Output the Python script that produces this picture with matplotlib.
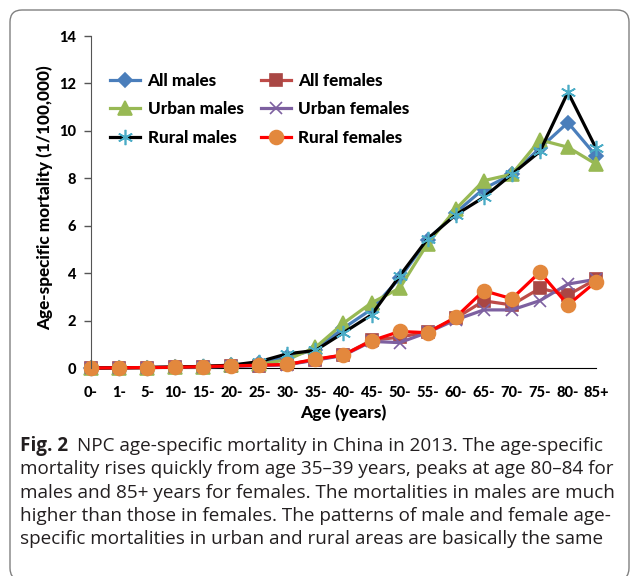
import matplotlib
matplotlib.use("Agg")
import matplotlib.pyplot as plt
from matplotlib.patches import FancyBboxPatch
from matplotlib.transforms import IdentityTransform
import numpy as np

ages = ["0-", "1-", "5-", "10-", "15-", "20-", "25-", "30-", "35-", "40-",
        "45-", "50-", "55-", "60-", "65-", "70-", "75-", "80-", "85+"]
all_males = [0, 0.01, 0.02, 0.04, 0.06, 0.12, 0.2, 0.45, 0.78, 1.68, 2.48, 3.78, 5.4, 6.55, 7.56, 8.17, 9.27, 10.35, 8.95]
all_females = [0, 0.01, 0.02, 0.03, 0.05, 0.08, 0.1, 0.15, 0.35, 0.55, 1.17, 1.3, 1.52, 2.1, 2.83, 2.66, 3.36, 3.08, 3.74]
urban_males = [0, 0.01, 0.02, 0.03, 0.05, 0.12, 0.15, 0.35, 0.87, 1.89, 2.75, 3.36, 5.25, 6.7, 7.9, 8.17, 9.62, 9.31, 8.6]
urban_females = [0, 0.01, 0.02, 0.03, 0.05, 0.07, 0.1, 0.14, 0.33, 0.53, 1.12, 1.07, 1.5, 2.03, 2.45, 2.45, 2.84, 3.54, 3.74]
rural_males = [0, 0.01, 0.02, 0.04, 0.07, 0.12, 0.27, 0.6, 0.74, 1.49, 2.24, 3.88, 5.45, 6.46, 7.2, 8.17, 9.13, 11.63, 9.27]
rural_females = [0, 0.01, 0.02, 0.03, 0.06, 0.09, 0.12, 0.15, 0.37, 0.55, 1.15, 1.54, 1.49, 2.14, 3.26, 2.92, 4.04, 2.66, 3.64]
yticks = [0, 2, 4, 6, 8, 10, 12, 14]

W, H = 630, 576
fig = plt.figure(figsize=(W / 100, H / 100), dpi=100)

# outer rounded box
box = FancyBboxPatch((10, -4), 619, 570, boxstyle="round,pad=0,rounding_size=12",
                     transform=IdentityTransform(), facecolor="none",
                     edgecolor="#808080", linewidth=1.0)
fig.patches.append(box)

def px(x0, y0, x1, y1):
    return [x0 / W, 1 - y1 / H, (x1 - x0) / W, (y1 - y0) / H]

ax = fig.add_axes(px(91, 36, 596, 368))
x = np.arange(len(ages))
font = "Lato"

series = [
    ("All males", all_males, "#4A7EBB", "D", "#4A7EBB", "#4A7EBB", 7),
    ("All females", all_females, "#BE4B48", "s", "#A94744", "#A94744", 8),
    ("Urban males", urban_males, "#98B954", "^", "#98B954", "#98B954", 10),
    ("Urban females", urban_females, "#7D60A0", "x", "#7D60A0", "#7D60A0", 9),
    ("Rural males", rural_males, "#000000", (6, 2, 0), "#4BACC6", "#4BACC6", 11),
    ("Rural females", rural_females, "#FF0000", "o", "#E3883D", "#E3883D", 10),
]
handles = {}
for name, vals, lc, mk, mfc, mec, ms in series:
    h, = ax.plot(x, vals, color=lc, linewidth=2.3, marker=mk, markersize=ms,
                 markerfacecolor=mfc, markeredgecolor=mec, markeredgewidth=1.2,
                 label=name, clip_on=False)
    handles[name] = h

ax.set_xlim(0, len(ages) - 1)
ax.set_ylim(0, 14)
ax.set_yticks(yticks)
ax.set_yticklabels([str(v) for v in yticks], fontfamily=font, fontweight="black", fontsize=10.5)
ax.set_xticks(x)
ax.set_xticklabels(ages, fontfamily=font, fontweight="black", fontsize=10.5)
ax.tick_params(axis="x", length=0, pad=13)
ax.tick_params(axis="y", direction="out", length=5, width=1, color="#555555", pad=6)
for s in ["top", "right"]:
    ax.spines[s].set_visible(False)
ax.spines["left"].set_color("#555555")
ax.spines["bottom"].set_color("#000000")
ax.spines["bottom"].set_zorder(0)

fig.text(45 / W, 1 - 198 / H, "Age-specific mortality (1/100,000)", rotation=90,
         ha="center", va="center", fontfamily=font, fontweight="black", fontsize=12.3)
fig.text(343 / W, 1 - 413 / H, "Age (years)", ha="center", va="center",
         fontfamily=font, fontweight="black", fontsize=12.5)

order = ["All males", "Urban males", "Rural males", "All females", "Urban females", "Rural females"]
leg = ax.legend([handles[n] for n in order], order, ncol=2, frameon=False,
                loc="upper left", bbox_to_anchor=((110 - 91) / (596 - 91), 1 - (73 - 36) / (368 - 36)),
                prop={"family": font, "weight": "black", "size": 12.3},
                handlelength=1.75, handletextpad=0.45, columnspacing=1.0,
                labelspacing=0.72, borderaxespad=0, borderpad=0)

# caption
cap_lines = [
    "NPC age-specific mortality in China in 2013. The age-specific",
    "mortality rises quickly from age 35\u201339 years, peaks at age 80\u201384 for",
    "males and 85+ years for females. The mortalities in males are much",
    "higher than those in females. The patterns of male and female age-",
    "specific mortalities in urban and rural areas are basically the same",
]
cap_font = "Open Sans"
fs = 13.0
y0 = 446
bold = fig.text(20 / W, 1 - y0 / H, "Fig. 2", fontfamily=cap_font, fontweight="bold",
                fontsize=fs, va="center", ha="left", color="#231F20")
fig.canvas.draw()
r = fig.canvas.get_renderer()
t0 = fig.text(0.5, 1 - y0 / H, cap_lines[0], fontfamily=cap_font,
              fontsize=fs, va="center", ha="left", color="#231F20")
others = []
for i, line in enumerate(cap_lines[1:], start=1):
    others.append(fig.text(20 / W, 1 - (y0 + 23.3 * i) / H, line, fontfamily=cap_font,
                           fontsize=fs, va="center", ha="left", color="#231F20"))
# fit widths to ~592 px for the longest line
fig.canvas.draw()
maxw = max(t.get_window_extent(r).width for t in others)
newfs = fs * 592 / maxw
bold.set_fontsize(newfs)
t0.set_fontsize(newfs)
for t in others:
    t.set_fontsize(newfs)
fig.canvas.draw()
bw = bold.get_window_extent(r).width
t0.set_x((20 + bw + 9) / W)

fig.savefig("out.png", dpi=100)
